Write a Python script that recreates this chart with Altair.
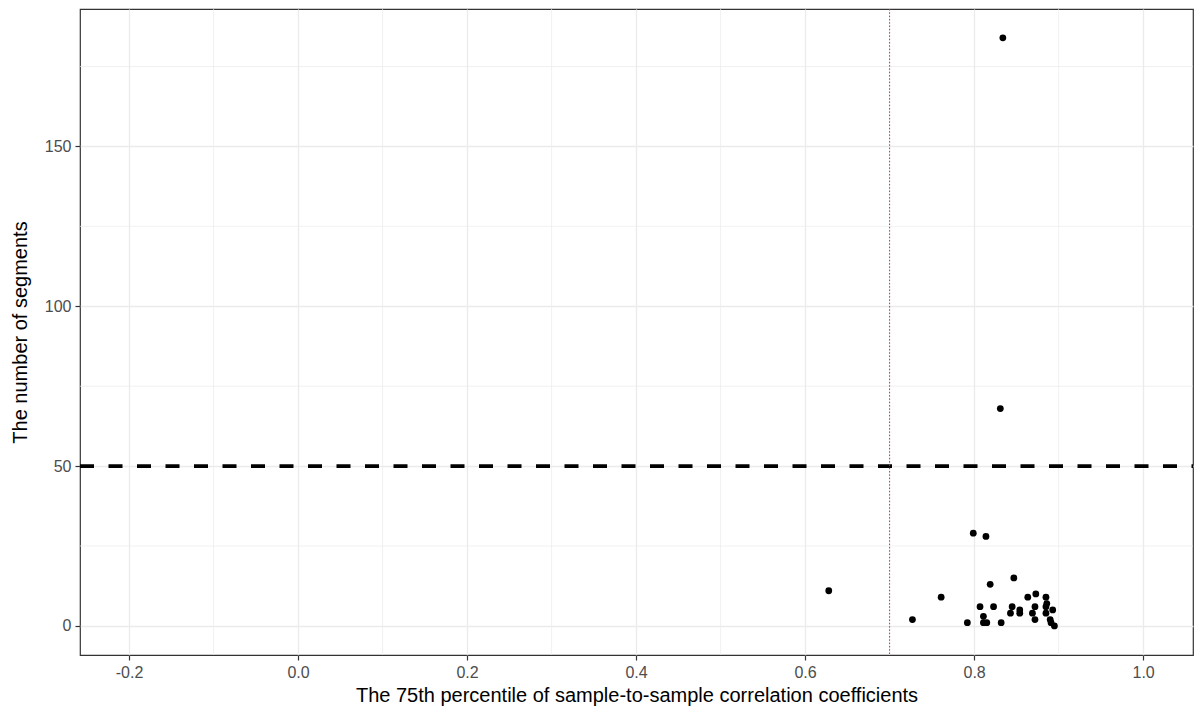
import altair as alt
import pandas as pd

# Data
corr_75th = [0.628, 0.727, 0.761, 0.799, 0.814, 0.819, 0.847, 0.792, 0.807, 0.811,
             0.811, 0.815, 0.823, 0.832, 0.845, 0.843, 0.854, 0.854, 0.8635, 0.873,
             0.872, 0.869, 0.872, 0.885, 0.886, 0.885, 0.885, 0.893, 0.890, 0.891,
             0.895, 0.831, 0.834]
n_segments = [11, 2, 9, 29, 28, 13, 15, 1, 6, 3,
              1, 1, 6, 1, 6, 4, 5, 4, 9, 10,
              6, 4, 2, 9, 7, 6, 4, 5, 2, 1,
              0, 68, 184]

x_ticks = [-0.2, 0.0, 0.2, 0.4, 0.6, 0.8, 1.0]
y_ticks = [0, 50, 100, 150]
x_minor = [-0.1, 0.1, 0.3, 0.5, 0.7, 0.9]
y_minor = [25, 75, 125, 175]
threshold_x = [0.7]
threshold_y = [50]

points = pd.DataFrame({"x": corr_75th, "y": n_segments})
df_xminor = pd.DataFrame({"x": x_minor})
df_yminor = pd.DataFrame({"y": y_minor})
df_vline = pd.DataFrame({"x": threshold_x})
df_hline = pd.DataFrame({"y": threshold_y})

FONT = "Liberation Sans"
x_scale = alt.Scale(domain=[-0.258, 1.059], nice=False, zero=False)
y_scale = alt.Scale(domain=[-9.1, 193.0], nice=False, zero=False)

x_axis = alt.Axis(
    values=x_ticks, title="The 75th percentile of sample-to-sample correlation coefficients",
    labelExpr="datum.value < 0 ? '-' + format(-datum.value, '.1f') : format(datum.value, '.1f')",
    grid=True, gridColor="#ebebeb", gridWidth=1.3, domain=False,
    tickColor="#333333", tickSize=5, tickWidth=1.2,
    labelFont=FONT, labelFontSize=16, labelColor="#4d4d4d", labelPadding=4,
    titleFont=FONT, titleFontSize=20, titleFontWeight="normal", titleColor="#000000",
    titlePadding=5,
)
y_axis = alt.Axis(
    values=y_ticks, title="The number of segments", format="d",
    grid=True, gridColor="#ebebeb", gridWidth=1.3, domain=False,
    tickColor="#333333", tickSize=5, tickWidth=1.2,
    labelFont=FONT, labelFontSize=16, labelColor="#4d4d4d", labelPadding=4,
    titleFont=FONT, titleFontSize=20, titleFontWeight="normal", titleColor="#000000",
    titlePadding=14,
)

pts = alt.Chart(points).mark_circle(size=46, color="#000000", opacity=1).encode(
    x=alt.X("x:Q", scale=x_scale, axis=x_axis),
    y=alt.Y("y:Q", scale=y_scale, axis=y_axis),
)

xminor = alt.Chart(df_xminor).mark_rule(color="#ebebeb", strokeWidth=0.7).encode(
    x=alt.X("x:Q", scale=x_scale)
)
yminor = alt.Chart(df_yminor).mark_rule(color="#ebebeb", strokeWidth=0.7).encode(
    y=alt.Y("y:Q", scale=y_scale)
)
hline = alt.Chart(df_hline).mark_rule(
    color="#000000", strokeWidth=3.8, strokeDash=[14, 14.5], strokeDashOffset=12.5
).encode(
    y=alt.Y("y:Q", scale=y_scale)
)
vline = alt.Chart(df_vline).mark_rule(color="#cc3030", strokeWidth=1, strokeDash=[1.5, 1.8]).encode(
    x=alt.X("x:Q", scale=x_scale)
)

chart = alt.layer(xminor, yminor, pts, hline, vline).properties(
    width=1113, height=646,
    autosize=alt.AutoSizeParams(type="none"),
    padding={"left": 80, "top": 9, "right": 1, "bottom": 55},
    background="#ffffff",
).configure_view(stroke="#333333", strokeWidth=1.2)

chart.save("out.html", embed_options={"renderer": "svg", "actions": False})
